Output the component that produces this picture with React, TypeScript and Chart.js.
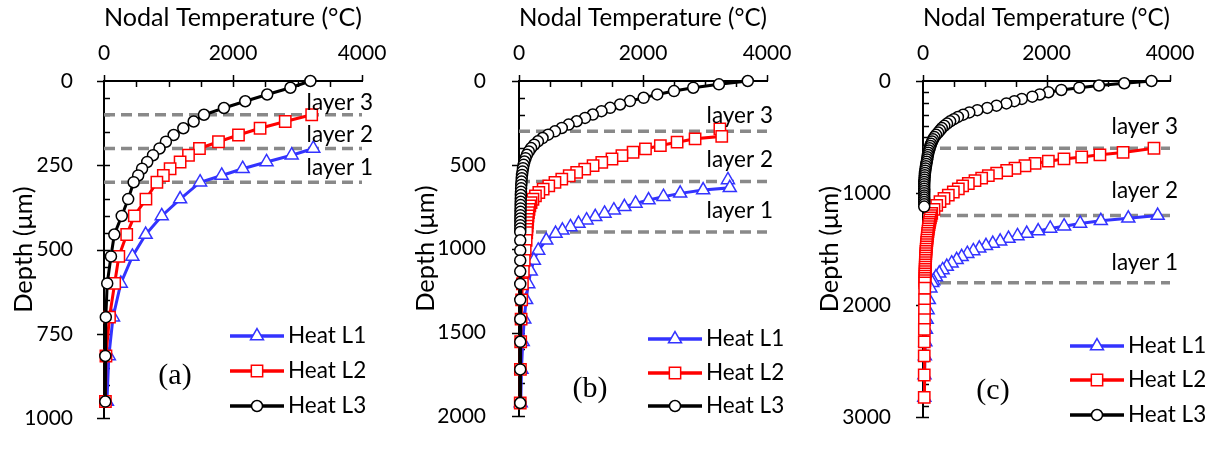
import React, { useEffect, useRef } from 'react';
import { Chart, registerables } from 'chart.js';
Chart.register(...registerables);

// ---------------- Data: panel (a) ----------------
const depthA_L1 = [200, 220, 240, 260, 280, 300, 350, 400, 455, 520, 600, 700, 815, 950];
const tempA_L1 = [3245, 2910, 2520, 2150, 1825, 1490, 1180, 895, 646, 440, 260, 140, 75, 45];
const depthA_L2 = [100, 120, 140, 160, 180, 200, 220, 240, 260, 280, 300, 350, 400, 455, 520, 600, 700, 815, 950];
const tempA_L2 = [3220, 2810, 2420, 2085, 1775, 1480, 1310, 1180, 1025, 920, 820, 650, 470, 352, 230, 165, 85, 30, 22];
const depthA_L3 = [0, 20, 40, 60, 80, 100, 120, 140, 160, 180, 200, 220, 240, 260, 280, 300, 350, 400, 455, 520, 600, 700, 815, 950];
const tempA_L3 = [3200, 2890, 2530, 2190, 1860, 1550, 1390, 1230, 1080, 960, 860, 760, 670, 590, 530, 460, 375, 275, 160, 108, 50, 28, 20, 20];
const layersA = [100, 200, 300];
const layerLabelDepthA = [64, 158, 256];

// ---------------- Data: panel (b) ----------------
const depthB_L1 = [590, 637, 650, 670, 690, 710, 730, 750, 770, 790, 810, 830, 850, 870, 890, 910, 950, 1010, 1070, 1135, 1210, 1305, 1420, 1555, 1720, 1920];
const tempB_L1 = [3370, 3400, 2970, 2600, 2330, 2090, 1880, 1700, 1530, 1380, 1230, 1090, 960, 830, 700, 590, 440, 310, 240, 190, 150, 115, 85, 60, 40, 28];
const depthB_L2 = [285, 330, 345, 365, 385, 405, 425, 445, 465, 485, 505, 525, 545, 565, 585, 605, 625, 645, 665, 685, 705, 725, 745, 765, 785, 805, 825, 845, 865, 885, 905, 950, 1010, 1070, 1135, 1210, 1305, 1420, 1555, 1720, 1920];
const tempB_L2 = [3240, 3270, 2840, 2550, 2280, 2040, 1840, 1660, 1500, 1335, 1195, 1060, 930, 810, 690, 580, 480, 390, 320, 265, 225, 195, 175, 162, 152, 145, 140, 135, 131, 127, 124, 115, 100, 85, 70, 55, 43, 34, 27, 23, 20];
const depthB_L3 = [0, 20, 40, 60, 80, 100, 120, 140, 160, 180, 200, 220, 240, 260, 280, 300, 320, 340, 360, 380, 400, 420, 440, 460, 480, 500, 520, 540, 560, 580, 600, 620, 640, 660, 680, 700, 720, 740, 760, 780, 800, 820, 840, 860, 880, 900, 950, 1010, 1070, 1135, 1210, 1305, 1420, 1555, 1720, 1920];
const tempB_L3 = [3690, 3225, 2810, 2500, 2230, 2010, 1790, 1630, 1470, 1330, 1190, 1065, 930, 800, 690, 580, 470, 380, 305, 245, 195, 158, 128, 105, 88, 75, 64, 56, 49, 44, 40, 37, 34, 32, 30, 28, 27, 26, 25, 24, 23, 22, 22, 21, 21, 20, 20, 20, 20, 20, 20, 20, 20, 20, 20, 20];
const layersB = [300, 600, 900];
const layerLabelDepthB = [206, 467, 772];

// ---------------- Data: panel (c) ----------------
const depthC_L1 = [1200, 1225, 1247, 1270, 1295, 1315, 1338, 1360, 1382, 1405, 1430, 1450, 1470, 1492, 1515, 1540, 1568, 1595, 1625, 1655, 1685, 1715, 1748, 1783, 1800, 1848, 1951, 2042, 2128, 2215, 2327, 2452, 2622, 2822];
const tempC_L1 = [3800, 3325, 2880, 2545, 2285, 2060, 1865, 1680, 1530, 1385, 1250, 1130, 1020, 912, 815, 718, 626, 545, 464, 385, 318, 264, 210, 167, 150, 120, 95, 75, 60, 48, 38, 30, 24, 21];
const depthC_L2 = [600, 637, 658, 678, 695, 715, 735, 756, 778, 798, 822, 844, 866, 889, 914, 936, 962, 990, 1018, 1046, 1075, 1110, 1145, 1180, 1200, 1220, 1240, 1260, 1280, 1300, 1320, 1340, 1360, 1380, 1400, 1420, 1440, 1460, 1480, 1500, 1520, 1540, 1560, 1580, 1600, 1620, 1640, 1660, 1680, 1700, 1720, 1740, 1760, 1780, 1800, 1848, 1951, 2042, 2128, 2215, 2327, 2452, 2622, 2822];
const tempC_L2 = [3740, 3240, 2865, 2570, 2283, 2030, 1815, 1652, 1490, 1355, 1193, 1058, 950, 842, 734, 642, 572, 491, 410, 340, 275, 222, 178, 141, 130, 120, 112, 105, 98, 92, 86, 81, 76, 72, 68, 64, 60, 57, 54, 51, 48, 46, 44, 42, 40, 38, 37, 36, 35, 34, 33, 32, 31, 30, 29, 27, 25, 24, 23, 22, 21, 20, 20, 20];
const depthC_L3 = [0, 20, 40, 60, 80, 100, 120, 140, 160, 180, 200, 220, 240, 260, 280, 300, 320, 340, 360, 380, 400, 420, 440, 460, 480, 500, 520, 540, 560, 580, 600, 620, 640, 660, 680, 700, 720, 740, 760, 780, 800, 820, 840, 860, 880, 900, 920, 940, 960, 980, 1000, 1020, 1040, 1060, 1080, 1100, 1120];
const tempC_L3 = [3700, 3260, 2850, 2530, 2240, 2030, 1890, 1770, 1600, 1480, 1350, 1190, 1040, 880, 750, 650, 565, 500, 440, 390, 345, 305, 275, 245, 212, 185, 162, 147, 131, 120, 108, 96, 86, 80, 73, 67, 60, 54, 48, 42, 36, 32, 29, 26, 23, 21, 20, 20, 20, 20, 20, 20, 20, 20, 20, 20, 20];
const layersC = [600, 1200, 1800];
const layerLabelDepthC = [408, 983, 1617];

// ---------------- Labels / axes ----------------
const seriesNames = ['Heat L1', 'Heat L2', 'Heat L3'];
const layerNames = ['layer 3', 'layer 2', 'layer 1'];
const xTickValues = [0, 2000, 4000];
const xTitle = 'Nodal Temperature (°C)';
const yTitle = 'Depth (μm)';

// ---------------- Styles ----------------
const FONT = 'Lato, "Open Sans", sans-serif';
const SERIF = '"Liberation Serif", "Times New Roman", serif';
const colors = ['#3333FF', '#FF0000', '#000000'];
const pStyles = ['triangle', 'rect', 'circle'];
const pRadius = [7.5, 8, 5.5];
const H = 454;
const AREA_TOP = 81;
const AREA_BOTTOM = 441;
const TEXT_SIZE = 22.5;

type Panel = {
  left: number; width: number; chartLeft: number; chartRight: number;
  yMax: number; yStep: number; yMinor: number; yTitlePad: number; yTickPad: number;
  series: { depth: number[]; temp: number[] }[];
  layers: number[]; labelDepths: number[]; labelRight: number;
  legendX: number; legendY: number[]; tag: string; tagX: number; tagY: number;
};

const panels: Panel[] = [
  {
    left: 0, width: 400, chartLeft: 104, chartRight: 362,
    yMax: 1000, yStep: 250, yMinor: 50, yTitlePad: 8, yTickPad: 23,
    series: [{ depth: depthA_L1, temp: tempA_L1 }, { depth: depthA_L2, temp: tempA_L2 }, { depth: depthA_L3, temp: tempA_L3 }],
    layers: layersA, labelDepths: layerLabelDepthA, labelRight: 373,
    legendX: 230, legendY: [336, 371, 406], tag: '(a)', tagX: 175, tagY: 376,
  },
  {
    left: 400, width: 400, chartLeft: 119, chartRight: 367,
    yMax: 2000, yStep: 500, yMinor: 100, yTitlePad: 10, yTickPad: 25,
    series: [{ depth: depthB_L1, temp: tempB_L1 }, { depth: depthB_L2, temp: tempB_L2 }, { depth: depthB_L3, temp: tempB_L3 }],
    layers: layersB, labelDepths: layerLabelDepthB, labelRight: 373,
    legendX: 248, legendY: [339, 373, 406], tag: '(b)', tagX: 190, tagY: 389,
  },
  {
    left: 800, width: 405, chartLeft: 123, chartRight: 370,
    yMax: 3000, yStep: 1000, yMinor: 100, yTitlePad: 14, yTickPad: 24,
    series: [{ depth: depthC_L1, temp: tempC_L1 }, { depth: depthC_L2, temp: tempC_L2 }, { depth: depthC_L3, temp: tempC_L3 }],
    layers: layersC, labelDepths: layerLabelDepthC, labelRight: 378,
    legendX: 270, legendY: [346, 380, 415], tag: '(c)', tagX: 193, tagY: 391,
  },
];

function drawMarker(ctx: CanvasRenderingContext2D, style: string, x: number, y: number, r: number, color: string) {
  ctx.beginPath();
  if (style === 'circle') {
    ctx.arc(x, y, r, 0, Math.PI * 2);
  } else if (style === 'rect') {
    const s = r * Math.SQRT1_2;
    ctx.rect(x - s, y - s, 2 * s, 2 * s);
  } else {
    let rad = 0;
    ctx.moveTo(x + Math.sin(rad) * r, y - Math.cos(rad) * r);
    rad += (2 * Math.PI) / 3;
    ctx.lineTo(x + Math.sin(rad) * r, y - Math.cos(rad) * r);
    rad += (2 * Math.PI) / 3;
    ctx.lineTo(x + Math.sin(rad) * r, y - Math.cos(rad) * r);
    ctx.closePath();
  }
  ctx.fillStyle = '#fff';
  ctx.fill();
  ctx.lineWidth = 1.5;
  ctx.strokeStyle = color;
  ctx.stroke();
}

function makeDecor(p: Panel) {
  return {
    id: 'decor',
    beforeDatasetsDraw(chart: any) {
      const { ctx, chartArea } = chart;
      const x = chart.scales.x;
      const y = chart.scales.y;
      ctx.save();
      ctx.strokeStyle = '#000';
      ctx.lineWidth = 1.5;
      ctx.beginPath();
      for (const v of xTickValues) {
        const px = Math.round(x.getPixelForValue(v)) + 0.5;
        ctx.moveTo(px, chartArea.top);
        ctx.lineTo(px, chartArea.top - 6);
      }
      for (let v = 500; v < 4000; v += 500) {
        const px = Math.round(x.getPixelForValue(v)) + 0.5;
        ctx.moveTo(px, chartArea.top);
        ctx.lineTo(px, chartArea.top + 6);
      }
      for (let v = 0; v <= p.yMax; v += p.yStep) {
        const py = Math.round(y.getPixelForValue(v)) + 0.5;
        ctx.moveTo(chartArea.left, py);
        ctx.lineTo(chartArea.left - 7, py);
      }
      for (let v = p.yMinor; v <= p.yMax; v += p.yMinor) {
        const py = Math.round(y.getPixelForValue(v)) + 0.5;
        ctx.moveTo(chartArea.left, py);
        ctx.lineTo(chartArea.left + 6, py);
      }
      ctx.stroke();
      ctx.restore();
    },
    afterDraw(chart: any) {
      const { ctx } = chart;
      const y = chart.scales.y;
      ctx.save();
      ctx.font = `${TEXT_SIZE}px ${FONT}`;
      ctx.fillStyle = '#000';
      ctx.textAlign = 'right';
      ctx.textBaseline = 'middle';
      p.labelDepths.forEach((d, i) => {
        ctx.fillText(layerNames[i], p.labelRight, y.getPixelForValue(d));
      });
      ctx.textAlign = 'left';
      for (let i = 0; i < 3; i++) {
        const ly = p.legendY[i];
        ctx.beginPath();
        ctx.moveTo(p.legendX, ly);
        ctx.lineTo(p.legendX + 54, ly);
        ctx.strokeStyle = colors[i];
        ctx.lineWidth = 3.5;
        ctx.stroke();
        drawMarker(ctx, pStyles[i], p.legendX + 27, ly, pRadius[i], colors[i]);
        ctx.fillStyle = '#000';
        ctx.fillText(seriesNames[i], p.legendX + 58, ly);
      }
      ctx.font = `30px ${SERIF}`;
      ctx.textAlign = 'center';
      ctx.fillText(p.tag, p.tagX, p.tagY);
      ctx.restore();
    },
  };
}

function PanelChart({ p }: { p: Panel }) {
  const ref = useRef<HTMLCanvasElement>(null);
  useEffect(() => {
    const layerSets = p.layers.map((d) => ({
      data: [{ x: 0, y: d }, { x: 4000, y: d }],
      showLine: true,
      borderColor: '#898989',
      borderWidth: 3.5,
      borderDash: [11, 6],
      pointRadius: 0,
      order: 10,
      clip: false as any,
    }));
    const seriesSets = p.series.map((s, i) => ({
      label: seriesNames[i],
      data: s.depth.map((d, k) => ({ x: s.temp[k], y: d })),
      showLine: true,
      borderColor: colors[i],
      borderWidth: 3,
      pointStyle: pStyles[i] as any,
      pointRadius: pRadius[i],
      pointBorderWidth: 1.5,
      pointBorderColor: colors[i],
      pointBackgroundColor: '#ffffff',
      order: 3 - i,
      clip: false as any,
    }));
    const tickFont = { family: FONT, size: 21 };
    const titleFont = { family: FONT, size: 25.5 };
    const chart = new Chart(ref.current as HTMLCanvasElement, {
      type: 'scatter',
      data: { datasets: [...layerSets, ...seriesSets] as any },
      options: {
        responsive: false,
        animation: false,
        events: [],
        layout: { padding: { left: 0, right: p.width - p.chartRight, top: 0, bottom: H - AREA_BOTTOM } },
        plugins: { legend: { display: false }, tooltip: { enabled: false } },
        scales: {
          x: {
            type: 'linear', position: 'top', min: 0, max: 4000,
            afterFit: (s: any) => { s.height = AREA_TOP; },
            ticks: { stepSize: 2000, padding: 7, color: '#000', font: tickFont, maxRotation: 0, autoSkip: false, callback: (v: any) => String(v) },
            grid: { display: false },
            border: { display: true, color: '#000', width: 2 },
            title: { display: true, text: xTitle, color: '#000', font: titleFont, padding: { top: 2, bottom: 0 } },
          },
          y: {
            type: 'linear', reverse: true, min: 0, max: p.yMax,
            afterFit: (s: any) => { s.width = p.chartLeft; },
            ticks: { stepSize: p.yStep, padding: p.yTickPad, color: '#000', font: tickFont, autoSkip: false, callback: (v: any) => String(v) },
            grid: { display: false },
            border: { display: true, color: '#000', width: 2 },
            title: { display: true, text: yTitle, color: '#000', font: titleFont, padding: { top: p.yTitlePad, bottom: 0 } },
          },
        },
      } as any,
      plugins: [makeDecor(p)],
    });
    return () => chart.destroy();
  }, []);
  return (
    <canvas
      ref={ref}
      width={p.width}
      height={H}
      style={{ position: 'absolute', left: p.left, top: 0, width: p.width, height: H }}
    />
  );
}

export default function App() {
  return (
    <div style={{ position: 'absolute', left: 0, top: 0, width: 1205, height: H, background: '#fff', overflow: 'hidden' }}>
      {panels.map((p, i) => (
        <PanelChart key={i} p={p} />
      ))}
    </div>
  );
}
